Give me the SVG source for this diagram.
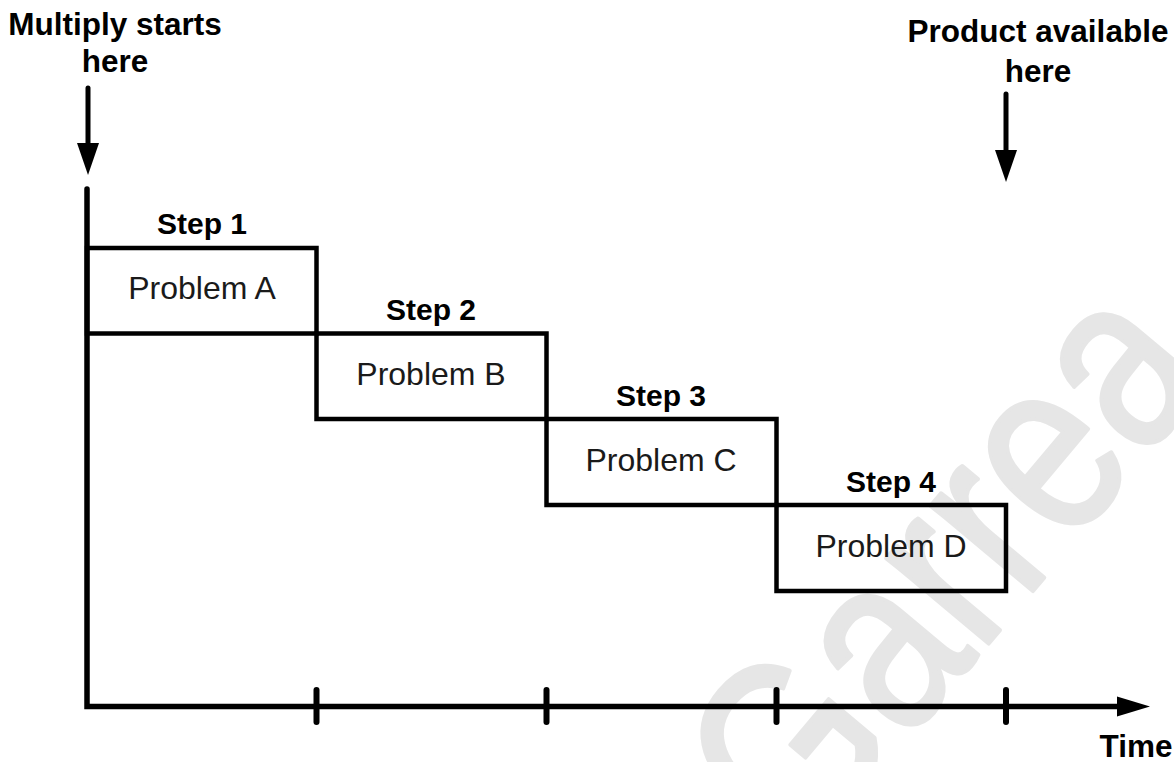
<svg xmlns="http://www.w3.org/2000/svg" width="1174" height="762" viewBox="0 0 1174 762">
  <style>
    .lbl { font-family: "Liberation Sans", Arial, sans-serif; font-weight: bold; font-size: 31.5px; fill: #000; text-anchor: middle; }
    .step { font-family: "Liberation Sans", Arial, sans-serif; font-weight: bold; font-size: 30px; fill: #000; text-anchor: middle; }
    .prob { font-family: "Liberation Sans", Arial, sans-serif; font-size: 32px; fill: #1a1a1a; text-anchor: middle; }
    .box { fill: none; stroke: #000; stroke-width: 4.5; stroke-linejoin: miter; }
    .axis { fill: none; stroke: #000; stroke-width: 5.5; stroke-linejoin: miter; }
    .tick { stroke: #000; stroke-width: 6; stroke-linecap: round; }
    .shaft { stroke: #000; stroke-width: 5; stroke-linecap: round; }
    .wm { font-family: "Liberation Sans", Arial, sans-serif; font-size: 252px; fill: #e6e6e6; stroke: #e6e6e6; stroke-width: 4; stroke-linejoin: round; }
  </style>
  <rect width="1174" height="762" fill="#fff"/>
  <text class="wm" transform="translate(802,866) rotate(-50) scale(0.82,1)">Garrea</text>

  <g id="connectors">
    <path class="axis" d="M87,189 L87,706.5 L1120,706.5" stroke-linecap="round"/>
    <polygon points="1117,696.5 1150,706.5 1117,716.5" fill="#000"/>
    <line class="tick" x1="316.5" y1="690" x2="316.5" y2="722"/>
    <line class="tick" x1="546.5" y1="690" x2="546.5" y2="722"/>
    <line class="tick" x1="776.5" y1="690" x2="776.5" y2="722"/>
    <line class="tick" x1="1006" y1="690" x2="1006" y2="722"/>
    <line class="shaft" x1="88" y1="88" x2="88" y2="146"/>
    <polygon points="77,143 99,143 88,175" fill="#000"/>
    <line class="shaft" x1="1006" y1="94" x2="1006" y2="153"/>
    <polygon points="995,150 1017,150 1006,182" fill="#000"/>
  </g>

  <g id="start-label">
    <text class="lbl" x="115" y="35">Multiply starts</text>
    <text class="lbl" x="115" y="72">here</text>
  </g>
  <g id="end-label">
    <text class="lbl" x="1038" y="42">Product available</text>
    <text class="lbl" x="1038" y="82">here</text>
  </g>
  <g id="time-label">
    <text class="lbl" x="1136" y="757">Time</text>
  </g>

  <g id="step1">
    <rect class="box" x="87" y="248" width="229.5" height="85.5"/>
    <text class="step" x="202" y="234">Step 1</text>
    <text class="prob" x="202" y="299">Problem A</text>
  </g>
  <g id="step2">
    <rect class="box" x="316.5" y="333.5" width="230" height="85.5"/>
    <text class="step" x="431" y="320">Step 2</text>
    <text class="prob" x="431" y="385">Problem B</text>
  </g>
  <g id="step3">
    <rect class="box" x="546.5" y="419" width="230" height="86"/>
    <text class="step" x="661" y="406">Step 3</text>
    <text class="prob" x="661" y="471">Problem C</text>
  </g>
  <g id="step4">
    <rect class="box" x="776.5" y="505" width="229.5" height="86"/>
    <text class="step" x="891" y="492">Step 4</text>
    <text class="prob" x="891" y="557">Problem D</text>
  </g>
</svg>
